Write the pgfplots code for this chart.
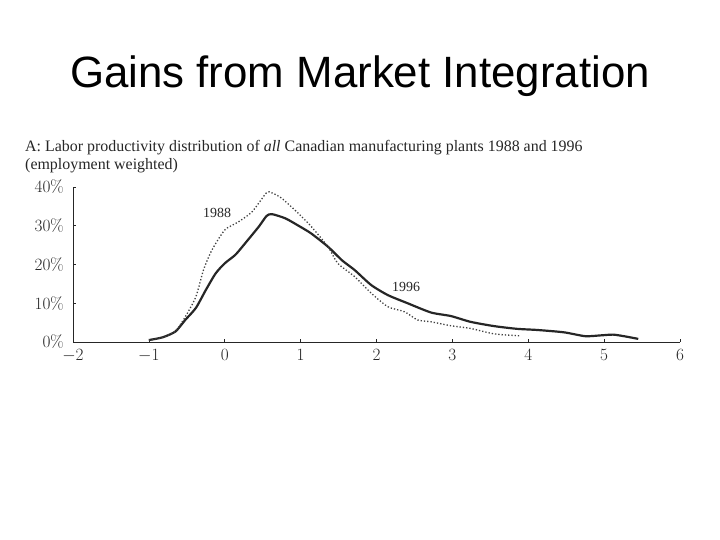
\documentclass[border=0pt]{standalone}
\usepackage{pgfplots}
\pgfplotsset{compat=1.18}
\usepackage[no-math]{fontspec}
\setmainfont{Liberation Serif}
\newfontfamily\arialf{Liberation Sans}
\begin{document}
\begin{tikzpicture}
\path[use as bounding box, fill=white] (0,0) rectangle (720bp,540bp);
\node[anchor=base, font=\arialf\fontsize{44}{50}\selectfont] at (360bp,452bp) {Gains from Market Integration};
\node[anchor=base west, inner sep=0pt, align=left, text=black!85, font=\fontsize{16}{18}\selectfont] at (25bp,388bp) {A: Labor productivity distribution of \textit{all} Canadian manufacturing plants 1988 and 1996};
\node[anchor=base west, inner sep=0pt, text=black!85, font=\fontsize{16}{18}\selectfont] at (25bp,370bp) {(employment weighted)};
\begin{axis}[
  at={(73bp,198bp)}, anchor=south west,
  scale only axis, width=607bp, height=155bp,
  xmin=-2, xmax=6, ymin=0, ymax=40,
  axis lines=left, axis line style={-, line width=0.8pt, black!85},
  xtick={-2,-1,0,1,2,3,4,5,6},
  ytick={0,10,20,30,40},
  yticklabel={$\pgfmathprintnumber{\tick}\%$},
  tick align=inside, major tick length=3bp,
  tick style={black!85, line width=0.6pt},
  ticklabel style={font=\fontsize{16.5}{18}\selectfont, text=black!85, inner sep=1bp},
  xticklabel style={yshift=-6bp},
  yticklabel style={xshift=-8bp},
  clip=false,
]
\addplot[black!85, line width=2.2pt, smooth, tension=0.4] coordinates {
(-1.00,0.5) (-0.82,1.2) (-0.65,2.7) (-0.52,5.7) (-0.38,8.8) (-0.25,13.4) (-0.12,17.7) (0.00,20.3) (0.14,22.5) (0.27,25.5) (0.45,29.8) (0.55,32.5) (0.62,33.0) (0.80,31.9) (0.99,29.8) (1.14,28.0) (1.36,24.6) (1.55,21.0) (1.71,18.6) (1.93,14.7) (2.15,12.1) (2.41,10.0) (2.72,7.6) (2.98,6.7) (3.24,5.2) (3.55,4.1) (3.85,3.4) (4.12,3.1) (4.47,2.5) (4.75,1.5) (4.95,1.7) (5.12,1.9) (5.29,1.4) (5.45,0.8)
};
\addplot[black!75, line width=1.3pt, dotted, smooth, tension=0.4] coordinates {
(-1.00,0.5) (-0.82,1.2) (-0.65,2.8) (-0.52,6.5) (-0.38,11.7) (-0.28,18.6) (-0.17,23.7) (0.00,28.9) (0.18,31.0) (0.36,33.6) (0.55,38.5) (0.62,38.5) (0.75,37.1) (0.97,33.2) (1.14,29.8) (1.36,24.6) (1.49,20.3) (1.71,16.9) (1.93,12.6) (2.15,9.1) (2.37,7.8) (2.54,5.7) (2.72,5.2) (2.98,4.2) (3.24,3.5) (3.55,2.1) (3.88,1.6)
};
\node[font=\fontsize{14}{16}\selectfont, text=black!85] at (axis cs:-0.10,33.3) {1988};
\node[font=\fontsize{14}{16}\selectfont, text=black!85] at (axis cs:2.39,14.2) {1996};
\end{axis}
\end{tikzpicture}
\end{document}
